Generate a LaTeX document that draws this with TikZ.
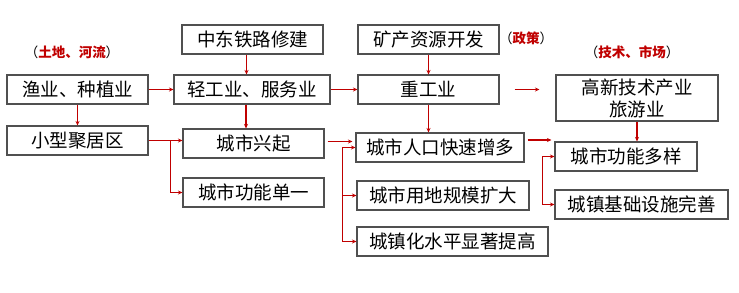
\documentclass[tikz,border=0pt]{standalone}
\usepackage{fontspec}
\setmainfont{Noto Sans CJK SC}
\usepackage{tikz}
\usetikzlibrary{arrows.meta,calc}
\definecolor{arrred}{RGB}{192,0,0}
\definecolor{boxgray}{RGB}{80,80,80}

\begin{document}
\begin{tikzpicture}[x=1pt, y=-1pt, >={Stealth[length=4.5pt,width=4pt]},
    box/.style={draw=boxgray, line width=1.1pt, minimum height=29pt, inner sep=0pt,
        font=\fontsize{18.5}{22}\selectfont},
    arr/.style={->, draw=arrred, line width=1.2pt},
    note/.style={font=\fontsize{13.5}{15}\selectfont}]
    \useasboundingbox (0,0) rectangle (739,292);

    % 上方两个条件
    \node[box, minimum width=141pt] (zd) at (252.5, 39.5) {中东铁路修建};
    \node[box, minimum width=141pt] (ky) at (428.5, 39.5) {矿产资源开发};

    % 产业一行
    \node[box, minimum width=141pt] (yy) at (77.5, 89.5) {渔业、种植业};
    \node[box, minimum width=156pt] (qg) at (252, 89.5) {轻工业、服务业};
    \node[box, minimum width=141pt] (zg) at (428.5, 89.5) {重工业};
    \node[box, minimum width=162pt, minimum height=46pt, align=center] (gx) at (637, 98) {高新技术产业\\旅游业};

    % 城市一行
    \node[box, minimum width=141pt] (xx) at (77.5, 140.5) {小型聚居区};
    \node[box, minimum width=141pt] (xq) at (253.5, 143.5) {城市兴起};
    \node[box, minimum width=141pt] (dy) at (253.5, 192.5) {城市功能单一};
    \node[box, minimum width=168pt] (rk) at (440, 147.5) {城市人口快速增多};
    \node[box, minimum width=172pt] (yd) at (443, 195.5) {城市用地规模扩大};
    \node[box, minimum width=191pt] (czh) at (452.5, 241.5) {城镇化水平显著提高};
    \node[box, minimum width=142pt] (dyang) at (626, 156.5) {城市功能多样};
    \node[box, minimum width=173pt] (jc) at (641.5, 204.5) {城镇基础设施完善};

    % 红色注释
    \node[note] (n1) at (72, 52) {（\textcolor{arrred}{\bfseries 土地、河流}）};
    \node[note] (n2) at (526, 38) {（\textcolor{arrred}{\bfseries 政策}）};
    \node[note] (n3) at (632, 52) {（\textcolor{arrred}{\bfseries 技术、市场}）};

    % 竖直箭头
    \draw[arr] ([xshift=-6pt]zd.south) -- ([xshift=-6pt]zd.south |- qg.north);
    \draw[arr] ([xshift=-6pt]qg.south) -- ([xshift=-6pt]qg.south |- xq.north);
    \draw[arr] (ky.south) -- (zg.north);
    \draw[arr] (zg.south) -- (zg.south |- rk.north);
    \draw[arr] (yy.south) -- (xx.north);
    \draw[arr] (gx.south) -- (gx.south |- dyang.north);

    % 水平箭头
    \draw[arr] (yy.east) -- (qg.west);
    \draw[arr] (qg.east) -- (zg.west);
    \draw[arr, shorten <=15pt, shorten >=16pt] (zg.east) -- (zg.east -| gx.west);
    \draw[arr] (xx.east) -- (xx.east -| xq.west);
    \draw[arr, shorten <=3pt, shorten >=3pt] ([yshift=2pt]xq.east) -- ([yshift=2pt]xq.east -| rk.west);
    \draw[arr, shorten <=3pt, shorten >=3pt] ([yshift=7.5pt]rk.east) -- ([yshift=7.5pt]rk.east -| dyang.west);

    % 分支
    \coordinate (b1) at ([xshift=22pt]xx.east);
    \draw[arr] (b1) |- (dy.west);
    \coordinate (b2) at ([xshift=-13pt]rk.west);
    \draw[arr] (b2) -- (rk.west);
    \draw[arr] (b2) |- (yd.west);
    \draw[arr] (b2) |- (czh.west);
    \coordinate (b3) at ([xshift=-12pt]dyang.west);
    \draw[arr] (b3) -- (dyang.west);
    \draw[arr] (b3) |- (jc.west);
\end{tikzpicture}
\end{document}
